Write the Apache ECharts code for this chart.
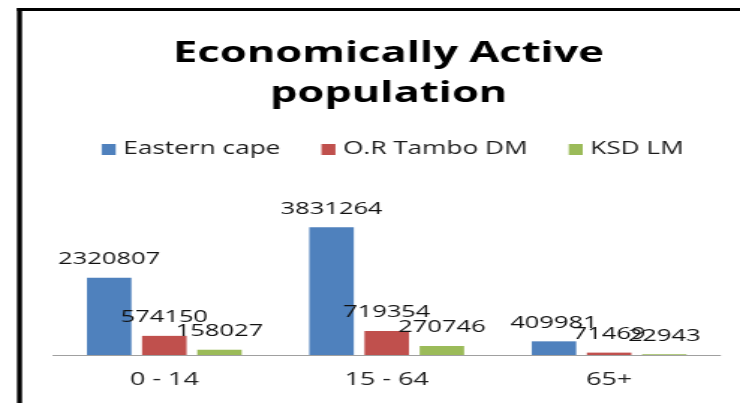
<!DOCTYPE html>
<html>
<head>
<meta charset="utf-8">
<script src="https://cdn.jsdelivr.net/npm/echarts@6/dist/echarts.min.js"></script>
<style>
  html, body { margin: 0; padding: 0; background: #fff; overflow: hidden; }
  /* the source picture is a horizontally stretched Excel chart */
  #main { width: 494px; height: 403px; transform: scaleX(1.498); transform-origin: 0 0; }
</style>
</head>
<body>
<div id="main"></div>
<script>
var ageGroups = ['0 - 14', '15 - 64', '65+'];
var seriesNames = ['Eastern cape', 'O.R Tambo DM', 'KSD LM'];
var easternCape = [2320807, 3831264, 409981];
var orTambo = [574150, 719354, 71469];
var ksdLm = [158027, 270746, 22943];

var colors = ['#4F81BD', '#C0504D', '#9BBB59'];
var font = 'Open Sans';

var chart = echarts.init(document.getElementById('main'));

function barSeries(name, values, color) {
  return {
    name: name,
    type: 'bar',
    barWidth: 29.7,
    barGap: '24%',
    itemStyle: { color: color },
    label: {
      show: true,
      position: 'top',
      distance: 10,
      fontFamily: font,
      fontSize: 17,
      color: '#111'
    },
    data: values
  };
}

chart.setOption({
  animation: false,
  color: colors,
  title: {
    text: 'Economically Active\npopulation',
    left: 259.4,
    top: 34,
    padding: 0,
    textAlign: 'center',
    textStyle: {
      fontFamily: font,
      fontWeight: 'bold',
      fontSize: 29,
      lineHeight: 40,
      color: '#000'
    }
  },
  legend: {
    data: seriesNames,
    left: 67.9,
    top: 140.5,
    padding: 0,
    icon: 'rect',
    symbolKeepAspect: false,
    itemWidth: 9.35,
    itemHeight: 11,
    itemGap: 27.4,
    selectedMode: false,
    textStyle: { fontFamily: font, fontSize: 17.5, color: '#1a1a1a' }
  },
  // border of the chart area
  graphic: [
    { type: 'rect', shape: { x: 11.35, y: 8, width: 3.34, height: 400 }, style: { fill: '#000' } },
    { type: 'rect', shape: { x: 11.35, y: 8, width: 490, height: 3 }, style: { fill: '#000' } }
  ],
  grid: { left: 35.45, right: 13.15, top: 205, bottom: 48 },
  xAxis: {
    type: 'category',
    data: ageGroups,
    axisLine: { lineStyle: { color: '#a0a0a0', width: 1 } },
    axisTick: { show: false },
    axisLabel: { fontFamily: font, fontSize: 18, color: '#222', margin: 16 }
  },
  yAxis: {
    type: 'value',
    min: 0,
    max: 4500000,
    show: false,
    splitLine: { show: false }
  },
  series: [
    barSeries(seriesNames[0], easternCape, colors[0]),
    barSeries(seriesNames[1], orTambo, colors[1]),
    barSeries(seriesNames[2], ksdLm, colors[2])
  ]
});
</script>
</body>
</html>
